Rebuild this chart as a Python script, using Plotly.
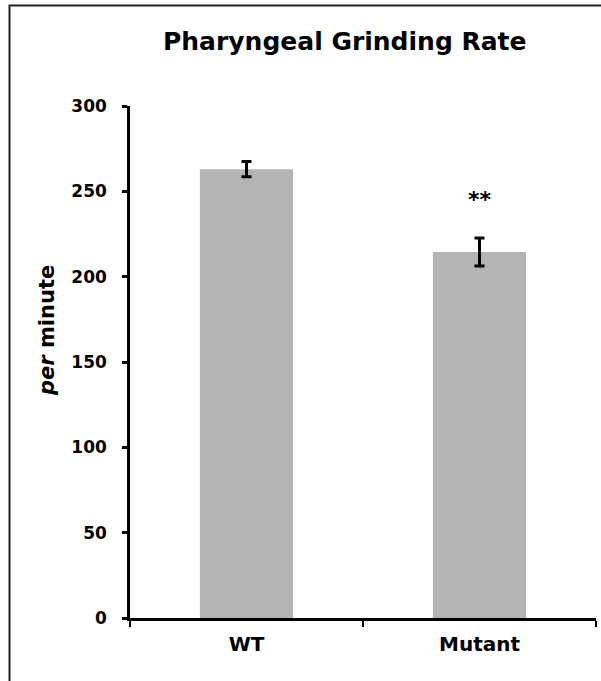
import plotly.graph_objects as go

categories = ["WT", "Mutant"]
means = [263.0, 214.5]
errors = [4.5, 8.2]
significance = ["", "**"]
y_ticks = [0, 50, 100, 150, 200, 250, 300]

FONT = "DejaVu Sans"
W, H = 601, 681
ML, MR, MT, MB = 130, 5, 106, 63
PW = W - ML - MR
PH = H - MT - MB


def px_x(p):
    return (p - ML) / PW


def px_y(p):
    return (H - MB - p) / PH


fig = go.Figure()
fig.add_trace(go.Bar(
    x=categories, y=means, width=0.4,
    marker=dict(color="#b4b4b4", line=dict(width=0)),
    error_y=dict(type="data", array=errors, visible=True,
                 color="black", thickness=3, width=5),
    hoverinfo="skip",
))

for c, m, e, s in zip(categories, means, errors, significance):
    if s:
        fig.add_annotation(x=c, y=245, text="<b>" + s + "</b>", showarrow=False,
                           font=dict(family=FONT, size=22, color="black"),
                           xanchor="center", yanchor="middle")

# title
fig.add_annotation(xref="paper", yref="paper", x=px_x(345), y=px_y(41),
                   text="<b>Pharyngeal Grinding Rate</b>", showarrow=False,
                   font=dict(family=FONT, size=25, color="black"),
                   xanchor="center", yanchor="middle")
# y title
fig.add_annotation(xref="paper", yref="paper", x=px_x(47), y=px_y(331),
                   text="<b><i>per</i> minute</b>", showarrow=False, textangle=-90,
                   font=dict(family=FONT, size=21, color="black"),
                   xanchor="center", yanchor="middle")

# outer frame (left and top edges)
fig.add_shape(type="path", xref="paper", yref="paper",
              path=f"M {px_x(9.5)},{px_y(700)} L {px_x(9.5)},{px_y(5.5)} L {px_x(620)},{px_y(5.5)}",
              line=dict(color="#222222", width=2))

fig.update_layout(
    width=W, height=H,
    margin=dict(l=ML, r=MR, t=MT, b=MB),
    paper_bgcolor="white", plot_bgcolor="white",
    showlegend=False,
    bargap=0.6,
    font=dict(family=FONT, color="black"),
)
fig.update_xaxes(
    showline=True, linecolor="black", linewidth=2.5,
    ticks="outside", tickson="boundaries", ticklen=6, tickwidth=2, tickcolor="black",
    tickfont=dict(family=FONT, size=20, color="black", weight="bold"),
    ticklabelstandoff=6,
    showgrid=False, zeroline=False,
)
fig.update_yaxes(
    range=[0, 300], tickvals=y_ticks,
    showline=True, linecolor="black", linewidth=2.5,
    ticks="outside", ticklen=5, tickwidth=2.5, tickcolor="black",
    tickfont=dict(family=FONT, size=17, color="black", weight="bold"),
    ticklabelstandoff=12,
    showgrid=False, zeroline=False,
)

fig.write_html("out.html", config={"displayModeBar": False},
               post_script="document.body.style.margin='0px';document.body.style.overflow='hidden';")
